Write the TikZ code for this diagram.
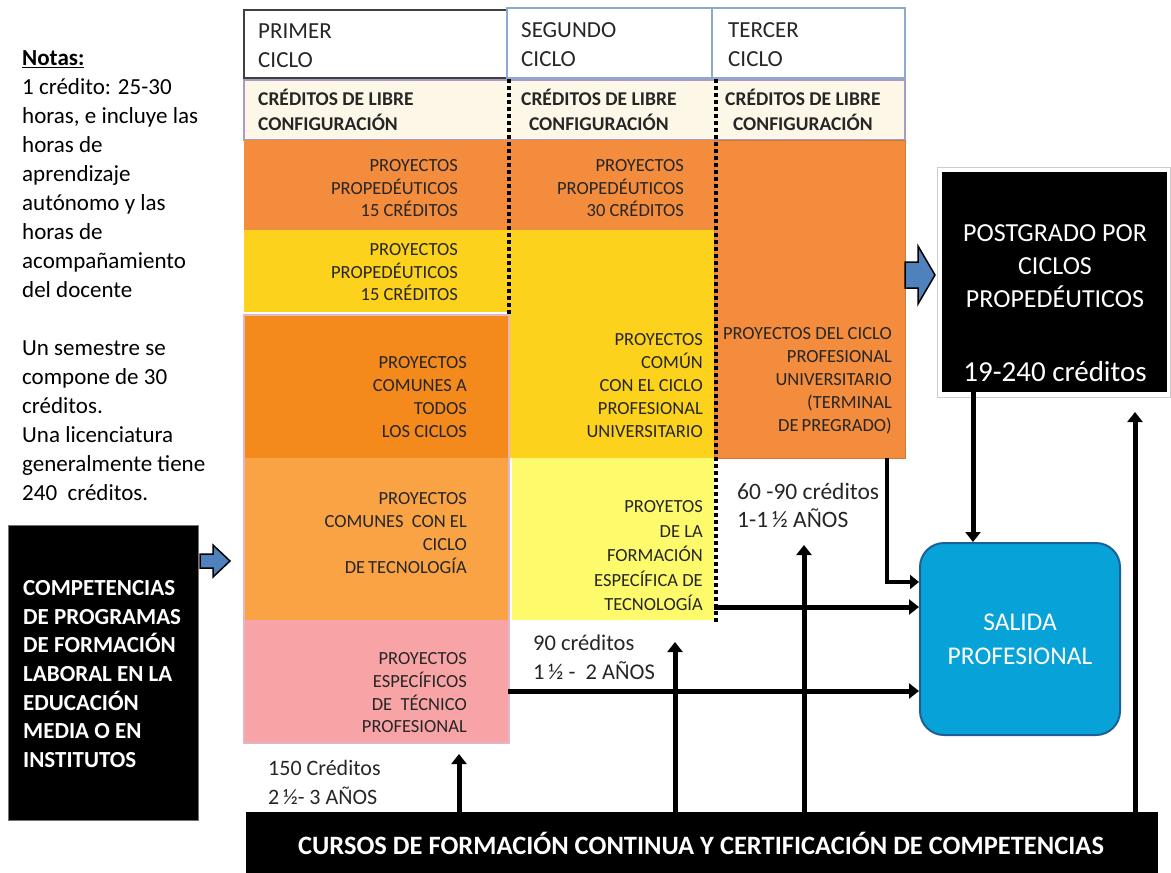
\documentclass[tikz,border=0pt]{standalone}
\usepackage{fontspec}
\setmainfont{Carlito}
\usetikzlibrary{arrows.meta}
\definecolor{orgA}{HTML}{F38D3D}
\definecolor{orgB}{HTML}{F4891C}
\definecolor{orgC}{HTML}{F9A344}
\definecolor{ylwA}{HTML}{FCD21C}
\definecolor{ylwB}{HTML}{FDFB6B}
\definecolor{pinkA}{HTML}{F8A4A6}
\definecolor{pinkB}{HTML}{E4B5C4}
\definecolor{creamA}{HTML}{FDF7E8}
\definecolor{lilac}{HTML}{A99BC4}
\definecolor{salidaA}{HTML}{07A3D8}
\definecolor{salidaB}{HTML}{1F5F99}
\definecolor{arrowblue}{HTML}{4F81BD}
\definecolor{hdrblue}{HTML}{8EA9CF}
\definecolor{txt}{HTML}{262626}
\newcommand\myfs[2]{\fontsize{#1}{#2}\selectfont}
\tikzset{
  box/.style={anchor=north west, inner sep=0pt, outer sep=0pt},
  celltext/.style={anchor=east, align=right, inner sep=0pt, text=txt},
  lefttext/.style={anchor=west, align=left, inner sep=0pt, text=txt},
  conn/.style={line width=5pt, -{Triangle[length=10pt,width=15pt]}},
  connthin/.style={line width=4pt, -{Triangle[length=9pt,width=14pt]}},
  dotl/.style={line width=4pt, dash pattern=on 4pt off 3pt, line cap=butt},
  blockarrow/.style={fill=arrowblue, draw=black, line width=1.5pt, line join=miter}
}
\begin{document}
\begin{tikzpicture}[x=1pt,y=-1pt]
\useasboundingbox (0,0) rectangle (1171,873);

% ---------- header cells
\node[box, draw=black!75, line width=1.5pt, fill=white, minimum width=263pt, minimum height=68pt] (h1) at (244,10) {};
\node[box, draw=hdrblue, line width=1.5pt, fill=white, minimum width=205pt, minimum height=70pt] (h2) at (507,8) {};
\node[box, draw=hdrblue, line width=1.5pt, fill=white, minimum width=193pt, minimum height=70pt] (h3) at (712,8) {};
\node[box, fill=creamA, draw=lilac, line width=1.5pt, minimum width=661pt, minimum height=60pt] (lib) at (244,80) {};

% ---------- coloured cells
\node[box, fill=orgA, minimum width=661pt, minimum height=90pt] (otop) at (244,140) {};
\node[box, fill=orgA, draw=orgA!85!black, line width=0.8pt, minimum width=191pt, minimum height=318pt] (c3) at (714,140) {};
\node[box, fill=ylwA, minimum width=470pt, minimum height=82pt] (y1) at (244,230) {};
\node[box, fill=ylwA, minimum width=207pt, minimum height=228pt] (y2) at (507,230) {};
\node[box, fill=orgB, minimum width=264pt, minimum height=143pt] (c1c) at (244,315) {};
\node[box, fill=orgC, minimum width=264pt, minimum height=162pt] (c1d) at (244,458) {};
\node[box, fill=pinkA, minimum width=264pt, minimum height=123pt] (c1e) at (244,620) {};
\node[box, draw=pinkB, line width=1.5pt, minimum width=265pt, minimum height=428pt] (g1) at (244,315) {};
\node[box, fill=ylwB, minimum width=202pt, minimum height=162pt] (c2c) at (512,458) {};

% ---------- dotted separators
\coordinate (d1a) at (509,79); \coordinate (d1b) at (509,316);
\coordinate (d2a) at (716,79); \coordinate (d2b) at (716,622);
\draw[dotl] (d1a) -- (d1b);
\draw[dotl] (d2a) -- (d2b);

% ---------- header texts
\node[lefttext, font=\myfs{23}{29}] (th1) at (258,46) {PRIMER\\CICLO};
\node[lefttext, font=\myfs{23}{29}] (th2) at (521,45) {SEGUNDO\\CICLO};
\node[lefttext, font=\myfs{23}{29}] (th3) at (728,45) {TERCER\\CICLO};
\node[lefttext, font=\bfseries\myfs{19.5}{25}] (tl1) at (258,110) {CRÉDITOS DE LIBRE\\CONFIGURACIÓN};
\node[lefttext, align=center, font=\bfseries\myfs{19.5}{25}] (tl2) at (521,110) {CRÉDITOS DE LIBRE\\CONFIGURACIÓN};
\node[lefttext, align=center, font=\bfseries\myfs{19.5}{25}] (tl3) at (725,110) {CRÉDITOS DE LIBRE\\CONFIGURACIÓN};

% ---------- cell texts
\node[celltext, font=\myfs{18.5}{22.5}] (t1a) at (458,188.5) {PROYECTOS\\PROPEDÉUTICOS\\15 CRÉDITOS};
\node[celltext, font=\myfs{18.5}{22.5}] (t2a) at (684,188.5) {PROYECTOS\\PROPEDÉUTICOS\\30 CRÉDITOS};
\node[celltext, font=\myfs{18.5}{22.5}] (t1b) at (458,272.5) {PROYECTOS\\PROPEDÉUTICOS\\15 CRÉDITOS};
\node[celltext, font=\myfs{18.5}{23}] (t1c) at (467,397.5) {PROYECTOS\\COMUNES A\\TODOS\\LOS CICLOS};
\node[celltext, font=\myfs{18.5}{23}] (t1d) at (467,533.5) {PROYECTOS\\COMUNES\ \ CON EL\\CICLO\\DE\,TECNOLOGÍA};
\node[celltext, font=\myfs{18.5}{22.7}] (t1e) at (467,693) {PROYECTOS\\ESPECÍFICOS\\DE\ \ TÉCNICO\\PROFESIONAL};
\node[celltext, font=\myfs{18.5}{23}] (t2b) at (703,386) {PROYECTOS\\COMÚN\\CON EL CICLO\\PROFESIONAL\\UNIVERSITARIO};
\node[celltext, font=\myfs{18.5}{24.5}] (t2c) at (703,556) {PROYETOS\\DE LA\\FORMACIÓN\\ESPECÍFICA DE\\TECNOLOGÍA};
\node[celltext, font=\myfs{18.5}{23}] (t3) at (892,381) {PROYECTOS DEL CICLO\\PROFESIONAL\\UNIVERSITARIO\\(TERMINAL\\DE\,PREGRADO)};

% ---------- duration labels
\node[lefttext, font=\myfs{23.5}{28}] (l3) at (737,505) {60 -90 créditos\\1-1\,½ AÑOS};
\node[lefttext, font=\myfs{22.5}{29}] (l2) at (533,657) {90 créditos\\1\,½ -\ \ 2 AÑOS};
\node[lefttext, font=\myfs{22}{29}] (l1) at (268,782) {150 Créditos\\2\,½- 3 AÑOS};

% ---------- notes
\node[lefttext, text=black, font=\myfs{23}{29}] (notes) at (22,276) {\textbf{\underline{Notas:}}\\1 crédito: 25-30\\horas, e incluye las\\horas de\\aprendizaje\\autónomo y las\\horas de\\acompañamiento\\del docente\\[29pt]Un semestre se\\compone de 30\\créditos.\\Una licenciatura\\generalmente tiene\\240\ \ créditos.};

% ---------- competencias box
\node[box, fill=black, draw=black!55, line width=1pt, minimum width=190pt, minimum height=295pt] (comp) at (8,525) {};
\node[lefttext, text=white, font=\bfseries\myfs{23}{28.7}] (compt) at (23,674) {COMPETENCIAS\\DE PROGRAMAS\\DE FORMACIÓN\\LABORAL EN LA\\EDUCACIÓN\\MEDIA O EN\\INSTITUTOS};

% ---------- postgrado box
\node[box, fill=white, draw=black!20, line width=1pt, minimum width=233pt, minimum height=230pt] (pgf) at (937,167) {};
\node[box, fill=black, minimum width=225pt, minimum height=220pt] (pg) at (942,172) {};
\node[align=center, text=white, inner sep=0pt, font=\myfs{26}{33}] (pgt) at (1055,266) {POSTGRADO POR\\CICLOS\\PROPEDÉUTICOS};
\node[text=white, inner sep=0pt, font=\myfs{29}{33}] (pgc) at (1055,372) {19-240 créditos};

% ---------- salida box
\node[fill=salidaA, draw=salidaB, line width=2pt, rounded corners=24pt, minimum width=200pt, minimum height=192pt, align=center, text=white, font=\myfs{25.5}{34}] (salida) at (1020,639) {SALIDA\\PROFESIONAL};

% ---------- bottom bar
\node[box, fill=black, minimum width=912pt, minimum height=63pt] (bar) at (246,812) {};
\node[text=white, inner sep=0pt, font=\bfseries\myfs{26.5}{30}] (bart) at (701,843) {CURSOS DE FORMACIÓN CONTINUA Y CERTIFICACIÓN DE COMPETENCIAS};

% ---------- block arrows
\draw[blockarrow] (905,262) -- (918,262) -- (918,246) -- (935,275) -- (918,304) -- (918,288) -- (905,288) -- cycle;
\draw[blockarrow] (200,554) -- (213,554) -- (213,545) -- (230,561) -- (213,577) -- (213,568) -- (200,568) -- cycle;

% ---------- connectors
\draw[conn] (c1e.east |- 0,691) -- (salida.west |- 0,691);
\draw[conn] (c2c.east |- 0,607) -- (salida.west |- 0,607);
\draw[connthin] (c3.south -| 887,0) |- (salida.west |- 0,582);
\draw[conn] (pg.south -| 973,0) -- (salida.north -| 973,0);
\coordinate (u1) at (459,754);
\coordinate (u2) at (675,642);
\coordinate (u3) at (804,545);
\coordinate (u4) at (1135,412);
\draw[conn] (bar.north -| u1) -- (u1);
\draw[conn] (bar.north -| u2) -- (u2);
\draw[conn] (bar.north -| u3) -- (u3);
\draw[conn] (bar.north -| u4) -- (u4);
\end{tikzpicture}
\end{document}
